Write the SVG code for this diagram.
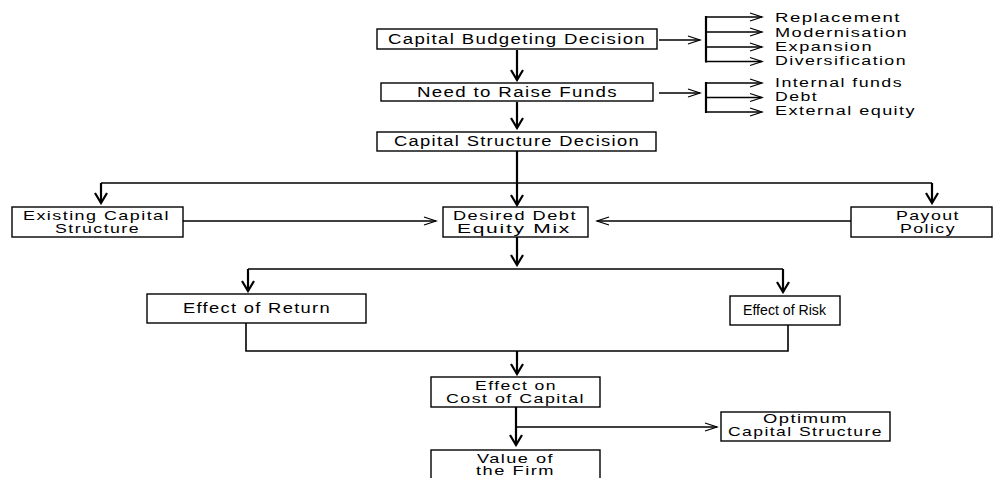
<svg xmlns="http://www.w3.org/2000/svg" width="994" height="478" viewBox="0 0 994 478">
  <style>
    .box { fill: #fff; stroke: #000; stroke-width: 1.4; }
    .lbl { font-family: "Liberation Sans", Arial, sans-serif; font-size: 14px; fill: #000; }
    .sm { font-size: 12.2px; }
    .xs { font-size: 12.5px; }
    .thick { fill: none; stroke: #000; stroke-width: 2.2; }
    .thin { fill: none; stroke: #000; stroke-width: 1.3; }
    .mid { fill: none; stroke: #000; stroke-width: 1.6; }
  </style>
  <defs>
    <marker id="vhead" viewBox="-12 -8 14 16" markerWidth="14" markerHeight="16" refX="0" refY="0" orient="auto" markerUnits="userSpaceOnUse">
      <path d="M-10,-6 L0,0 L-10,6" fill="none" stroke="#000" stroke-width="2.2"/>
    </marker>
    <marker id="hhead" viewBox="-14 -6 16 12" markerWidth="16" markerHeight="12" refX="0" refY="0" orient="auto" markerUnits="userSpaceOnUse">
      <path d="M-12,-4 L0,0 L-12,4" fill="none" stroke="#000" stroke-width="1.3"/>
    </marker>
  </defs>

  <g id="connectors">
    <path class="thick" d="M517,50 V80" marker-end="url(#vhead)"/>
    <path class="thick" d="M517,102 V128" marker-end="url(#vhead)"/>
    <path class="thin" d="M659,40 H700" marker-end="url(#hhead)"/>
    <path class="thin" d="M659,93 H700" marker-end="url(#hhead)"/>
    <path class="thick" d="M706,16 V62.5"/>
    <path class="thin" d="M706,17 H762" marker-end="url(#hhead)"/>
    <path class="thin" d="M706,32 H762" marker-end="url(#hhead)"/>
    <path class="thin" d="M706,47 H762" marker-end="url(#hhead)"/>
    <path class="thin" d="M706,61.5 H762" marker-end="url(#hhead)"/>
    <path class="thick" d="M706,82 V113"/>
    <path class="thin" d="M706,83 H762" marker-end="url(#hhead)"/>
    <path class="thin" d="M706,97.5 H762" marker-end="url(#hhead)"/>
    <path class="thin" d="M706,112 H762" marker-end="url(#hhead)"/>
    <path class="thick" d="M517,151 V205" marker-end="url(#vhead)"/>
    <path class="mid" d="M101,183 H932"/>
    <path class="thick" d="M101,183 V203" marker-end="url(#vhead)"/>
    <path class="thick" d="M932,183 V203" marker-end="url(#vhead)"/>
    <path class="thin" d="M183,221 H436" marker-end="url(#hhead)"/>
    <path class="thin" d="M851,221 H597" marker-end="url(#hhead)"/>
    <path class="thick" d="M517,237 V265" marker-end="url(#vhead)"/>
    <path class="mid" d="M248,269 H783"/>
    <path class="thick" d="M248,269 V291" marker-end="url(#vhead)"/>
    <path class="thick" d="M783,269 V292" marker-end="url(#vhead)"/>
    <path class="mid" d="M246,323 V351 H788 V325"/>
    <path class="thick" d="M517,351 V374" marker-end="url(#vhead)"/>
    <path class="thick" d="M516,407 V445" marker-end="url(#vhead)"/>
    <path class="thin" d="M516,427 H717" marker-end="url(#hhead)"/>
  </g>

  <g id="capital-budgeting">
    <rect class="box" x="377" y="29" width="280" height="20"/>
    <text class="lbl" x="388" y="43.5" textLength="258" lengthAdjust="spacingAndGlyphs" letter-spacing="1">Capital Budgeting Decision</text>
  </g>
  <g id="raise-funds">
    <rect class="box" x="381" y="83" width="272" height="18"/>
    <text class="lbl" x="417" y="97" textLength="201" lengthAdjust="spacingAndGlyphs" letter-spacing="1">Need to Raise Funds</text>
  </g>
  <g id="capital-structure">
    <rect class="box" x="377" y="132" width="279" height="19"/>
    <text class="lbl" x="394" y="146" textLength="246" lengthAdjust="spacingAndGlyphs" letter-spacing="1">Capital Structure Decision</text>
  </g>

  <g id="investment-types">
    <text class="lbl xs" x="775" y="22" textLength="126" lengthAdjust="spacingAndGlyphs" letter-spacing="1">Replacement</text>
    <text class="lbl xs" x="775" y="36.7" textLength="133" lengthAdjust="spacingAndGlyphs" letter-spacing="1">Modernisation</text>
    <text class="lbl xs" x="775" y="51" textLength="98" lengthAdjust="spacingAndGlyphs" letter-spacing="1">Expansion</text>
    <text class="lbl xs" x="775" y="65.3" textLength="132" lengthAdjust="spacingAndGlyphs" letter-spacing="1">Diversification</text>
  </g>
  <g id="fund-sources">
    <text class="lbl xs" x="775" y="86.7" textLength="128" lengthAdjust="spacingAndGlyphs" letter-spacing="1">Internal funds</text>
    <text class="lbl xs" x="775" y="101" textLength="43" lengthAdjust="spacingAndGlyphs" letter-spacing="1">Debt</text>
    <text class="lbl xs" x="775" y="115" textLength="141" lengthAdjust="spacingAndGlyphs" letter-spacing="1">External equity</text>
  </g>

  <g id="existing-structure">
    <rect class="box" x="12" y="207" width="171" height="30"/>
    <text class="lbl sm" x="23" y="220.3" textLength="147" lengthAdjust="spacingAndGlyphs" letter-spacing="1">Existing Capital</text>
    <text class="lbl sm" x="55" y="232.8" textLength="85" lengthAdjust="spacingAndGlyphs" letter-spacing="1">Structure</text>
  </g>
  <g id="debt-equity-mix">
    <rect class="box" x="443" y="207" width="145" height="30"/>
    <text class="lbl sm" x="453" y="220.3" textLength="124" lengthAdjust="spacingAndGlyphs" letter-spacing="1">Desired Debt</text>
    <text class="lbl sm" x="457" y="232.8" textLength="114" lengthAdjust="spacingAndGlyphs" letter-spacing="1">Equity Mix</text>
  </g>
  <g id="payout-policy">
    <rect class="box" x="851" y="207" width="141" height="30"/>
    <text class="lbl sm" x="896" y="220.3" textLength="64" lengthAdjust="spacingAndGlyphs" letter-spacing="1">Payout</text>
    <text class="lbl sm" x="900" y="232.8" textLength="56" lengthAdjust="spacingAndGlyphs" letter-spacing="1">Policy</text>
  </g>

  <g id="effect-return">
    <rect class="box" x="147" y="294" width="219" height="29"/>
    <text class="lbl" x="183" y="313.3" textLength="148" lengthAdjust="spacingAndGlyphs" letter-spacing="1">Effect of Return</text>
  </g>
  <g id="effect-risk">
    <rect class="box" x="730" y="296" width="110" height="29"/>
    <text class="lbl" x="743" y="315" textLength="83" lengthAdjust="spacingAndGlyphs">Effect of Risk</text>
  </g>

  <g id="cost-of-capital">
    <rect class="box" x="431" y="377" width="169" height="30"/>
    <text class="lbl sm" x="475" y="390.4" textLength="82" lengthAdjust="spacingAndGlyphs" letter-spacing="1">Effect on</text>
    <text class="lbl sm" x="446" y="402.8" textLength="139" lengthAdjust="spacingAndGlyphs" letter-spacing="1">Cost of Capital</text>
  </g>
  <g id="optimum-structure">
    <rect class="box" x="721" y="412" width="169" height="29"/>
    <text class="lbl sm" x="763" y="423.3" textLength="85" lengthAdjust="spacingAndGlyphs" letter-spacing="1">Optimum</text>
    <text class="lbl sm" x="728" y="436" textLength="155" lengthAdjust="spacingAndGlyphs" letter-spacing="1">Capital Structure</text>
  </g>
  <g id="firm-value">
    <rect class="box" x="431" y="450" width="169" height="34"/>
    <text class="lbl sm" x="477" y="463" textLength="77" lengthAdjust="spacingAndGlyphs" letter-spacing="1">Value of</text>
    <text class="lbl sm" x="476" y="475.3" textLength="79" lengthAdjust="spacingAndGlyphs" letter-spacing="1">the Firm</text>
  </g>
</svg>
